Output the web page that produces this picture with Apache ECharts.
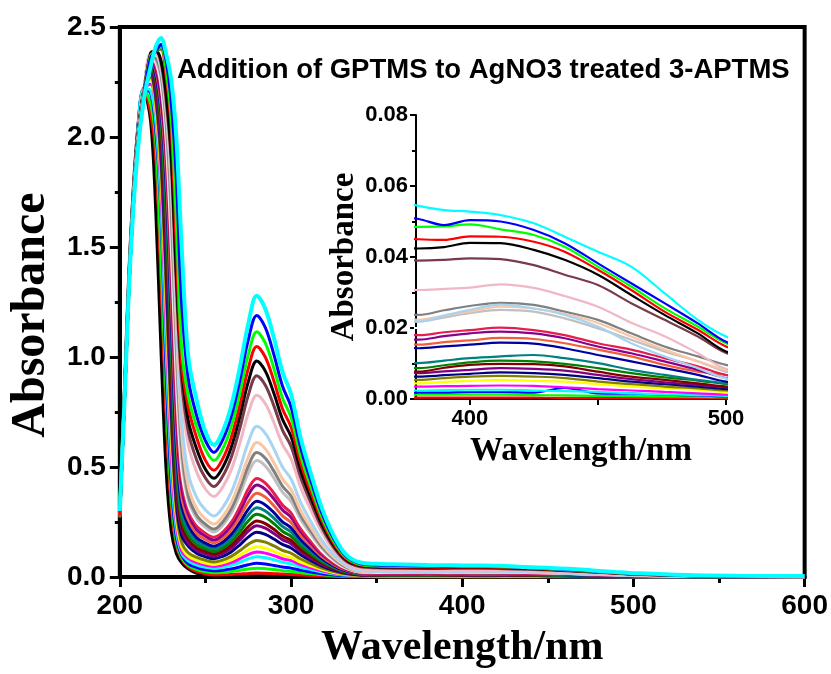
<!DOCTYPE html>
<html>
<head>
<meta charset="utf-8">
<script src="https://cdn.jsdelivr.net/npm/echarts@6/dist/echarts.min.js"></script>
<style>
  html, body { margin: 0; padding: 0; background: #ffffff; }
  #chart { width: 831px; height: 674px; }
</style>
</head>
<body>
<div id="chart"></div>
<script>
// Wavelength sampling points (nm) shared by every absorbance scan
const wavelengths = [200, 203, 206, 210, 214, 218, 221, 224, 227, 230, 233, 236, 240, 245, 250,
  255, 260, 265, 270, 275, 280, 285, 290, 295, 300, 306, 312, 318, 325, 332, 340, 350, 365,
  380, 390, 400, 412, 425, 437, 450, 463, 476, 489, 500, 530, 560, 600];

// Absorbance scans, one per GPTMS addition (first scan = before addition)
const scan00 = [0.28, 0.92, 1.50, 2.00, 2.21, 2.07, 1.66, 1.04, 0.49, 0.21, 0.107, 0.066, 0.036, 0.017, 0.009, 0.004, 0.004, 0.0045, 0.005, 0.0055, 0.006, 0.0055, 0.005, 0.0045, 0.004, 0.003, 0.0025, 0.002, 0.0015, 0.001, 0.0005, 0.0003, 0.0002, 0.0001, 0.0001, 0.0001, 0.0001, 0.0001, 0.0001, 0.0001, 0.0001, 0.0001, 0.0001, 0.0001, 0.0001, 0.0001, 0.0001];
const scan01 = [0.30, 0.90, 1.48, 1.98, 2.22, 2.11, 1.91, 1.36, 0.75, 0.32, 0.145, 0.083, 0.045, 0.024, 0.014, 0.009, 0.0098, 0.0113, 0.0137, 0.0164, 0.018, 0.0172, 0.0153, 0.0131, 0.0117, 0.0087, 0.0065, 0.0044, 0.0028, 0.0015, 0.0008, 0.0006, 0.0005, 0.0004, 0.0004, 0.0004, 0.0004, 0.0004, 0.0003, 0.0003, 0.0003, 0.0002, 0.0002, 0.0002, 0.0001, 0.0001, 0.0001];
const scan02 = [0.33, 0.90, 1.47, 1.97, 2.22, 2.15, 1.98, 1.46, 0.84, 0.37, 0.16, 0.09, 0.052, 0.034, 0.024, 0.019, 0.021, 0.0245, 0.030, 0.0362, 0.040, 0.038, 0.034, 0.029, 0.026, 0.0194, 0.0144, 0.0098, 0.006, 0.0035, 0.0022, 0.0016, 0.0014, 0.0012, 0.0012, 0.0012, 0.0012, 0.0011, 0.0010, 0.0009, 0.0008, 0.0007, 0.0006, 0.0005, 0.0003, 0.0002, 0.0002];
const scan03 = [0.29, 0.89, 1.47, 1.97, 2.22, 2.20, 2.03, 1.66, 0.94, 0.43, 0.18, 0.10, 0.06, 0.043, 0.033, 0.028, 0.031, 0.037, 0.0457, 0.0559, 0.062, 0.059, 0.0527, 0.0453, 0.0403, 0.030, 0.0223, 0.0152, 0.0095, 0.0055, 0.0032, 0.0024, 0.0021, 0.0018, 0.0018, 0.0019, 0.0019, 0.0018, 0.0031, 0.0016, 0.0015, 0.0012, 0.0010, 0.0007, 0.0004, 0.0003, 0.0002];
const scan04 = [0.31, 0.89, 1.46, 1.96, 2.22, 2.21, 2.07, 1.69, 1.04, 0.49, 0.21, 0.11, 0.072, 0.054, 0.044, 0.039, 0.0438, 0.0528, 0.0666, 0.0825, 0.092, 0.0877, 0.0782, 0.0672, 0.0598, 0.0446, 0.0331, 0.0225, 0.014, 0.008, 0.0045, 0.0032, 0.0028, 0.0024, 0.0025, 0.0026, 0.0026, 0.0024, 0.0022, 0.0020, 0.0016, 0.0013, 0.0011, 0.0009, 0.0005, 0.0003, 0.0003];
const scan05 = [0.28, 0.88, 1.46, 1.96, 2.22, 2.24, 2.12, 1.76, 1.14, 0.56, 0.24, 0.12, 0.085, 0.065, 0.054, 0.048, 0.054, 0.065, 0.0823, 0.102, 0.114, 0.1086, 0.0969, 0.0832, 0.0741, 0.0553, 0.041, 0.0279, 0.0172, 0.0098, 0.0055, 0.0042, 0.0038, 0.0035, 0.0036, 0.0037, 0.0038, 0.0037, 0.0033, 0.0028, 0.0024, 0.0020, 0.0016, 0.0012, 0.0007, 0.0005, 0.0004];
const scan06 = [0.30, 0.88, 1.46, 1.96, 2.22, 2.26, 2.13, 1.82, 1.23, 0.63, 0.27, 0.14, 0.095, 0.076, 0.064, 0.057, 0.0642, 0.0778, 0.0986, 0.1226, 0.137, 0.1306, 0.1165, 0.100, 0.089, 0.0664, 0.0493, 0.0336, 0.0205, 0.0115, 0.0068, 0.0053, 0.0048, 0.0044, 0.0048, 0.0051, 0.0054, 0.0051, 0.0049, 0.0042, 0.0035, 0.0030, 0.0026, 0.0020, 0.0011, 0.0007, 0.0005];
const scan07 = [0.27, 0.88, 1.45, 1.95, 2.21, 2.27, 2.16, 1.87, 1.31, 0.70, 0.31, 0.16, 0.11, 0.089, 0.076, 0.068, 0.0768, 0.0935, 0.119, 0.1484, 0.166, 0.1582, 0.1411, 0.1212, 0.1079, 0.0805, 0.0598, 0.0407, 0.025, 0.014, 0.008, 0.0065, 0.0058, 0.0054, 0.0059, 0.0063, 0.0065, 0.0063, 0.0059, 0.0049, 0.0042, 0.0035, 0.0030, 0.0024, 0.0013, 0.0008, 0.0006];
const scan08 = [0.30, 0.88, 1.45, 1.95, 2.21, 2.29, 2.19, 1.93, 1.40, 0.78, 0.34, 0.19, 0.14, 0.107, 0.092, 0.083, 0.0938, 0.1142, 0.1454, 0.1814, 0.203, 0.1935, 0.1726, 0.1482, 0.132, 0.0985, 0.0731, 0.0497, 0.0305, 0.017, 0.0095, 0.0075, 0.0068, 0.0063, 0.0067, 0.0071, 0.0075, 0.0073, 0.0068, 0.0059, 0.0049, 0.0042, 0.0035, 0.0028, 0.0015, 0.0009, 0.0007];
const scan09 = [0.29, 0.88, 1.45, 1.95, 2.21, 2.30, 2.20, 1.97, 1.48, 0.86, 0.38, 0.22, 0.155, 0.12, 0.105, 0.095, 0.1074, 0.1309, 0.1668, 0.2082, 0.233, 0.222, 0.198, 0.170, 0.1515, 0.113, 0.0839, 0.0571, 0.0345, 0.019, 0.0108, 0.0088, 0.0080, 0.0073, 0.0078, 0.0082, 0.0087, 0.0085, 0.0080, 0.0068, 0.0056, 0.0047, 0.0040, 0.0033, 0.0017, 0.0010, 0.0008];
const scan10 = [0.31, 0.87, 1.45, 1.95, 2.21, 2.32, 2.24, 2.03, 1.56, 0.94, 0.43, 0.24, 0.17, 0.132, 0.116, 0.105, 0.1185, 0.144, 0.183, 0.228, 0.255, 0.243, 0.2168, 0.1862, 0.1658, 0.1237, 0.0918, 0.0625, 0.0378, 0.0208, 0.0118, 0.0095, 0.0085, 0.0077, 0.0088, 0.0096, 0.0099, 0.0098, 0.0092, 0.0077, 0.0063, 0.0054, 0.0044, 0.0035, 0.0018, 0.0011, 0.0008];
const scan11 = [0.28, 0.87, 1.45, 1.95, 2.21, 2.32, 2.26, 2.06, 1.64, 1.02, 0.48, 0.27, 0.19, 0.147, 0.128, 0.116, 0.1312, 0.160, 0.2039, 0.2546, 0.285, 0.2716, 0.2423, 0.2081, 0.1853, 0.1382, 0.1026, 0.0698, 0.0422, 0.0232, 0.013, 0.0102, 0.0092, 0.0087, 0.0095, 0.0103, 0.0108, 0.0106, 0.0099, 0.0087, 0.0073, 0.0061, 0.0052, 0.0042, 0.0021, 0.0013, 0.0009];
const scan12 = [0.30, 0.87, 1.44, 1.94, 2.21, 2.34, 2.28, 2.11, 1.73, 1.10, 0.53, 0.30, 0.21, 0.162, 0.141, 0.128, 0.1448, 0.1766, 0.2252, 0.2813, 0.315, 0.3002, 0.2678, 0.230, 0.2048, 0.1528, 0.1134, 0.0772, 0.0465, 0.0256, 0.0142, 0.0115, 0.0105, 0.0101, 0.0108, 0.0115, 0.0120, 0.0124, 0.0115, 0.0101, 0.0082, 0.0068, 0.0054, 0.0044, 0.0022, 0.0013, 0.0009];
const scan13 = [0.29, 0.87, 1.44, 1.94, 2.21, 2.34, 2.28, 2.12, 1.79, 1.18, 0.60, 0.33, 0.235, 0.178, 0.154, 0.14, 0.1584, 0.193, 0.2461, 0.3073, 0.344, 0.3278, 0.2924, 0.2511, 0.2236, 0.1668, 0.1238, 0.0843, 0.0508, 0.028, 0.0165, 0.0150, 0.0146, 0.0143, 0.0148, 0.0153, 0.0159, 0.0156, 0.0143, 0.0124, 0.0106, 0.0087, 0.0068, 0.0049, 0.0025, 0.0015, 0.0010];
const scan14 = [0.30, 0.87, 1.44, 1.94, 2.20, 2.35, 2.30, 2.15, 1.85, 1.27, 0.67, 0.37, 0.26, 0.197, 0.171, 0.155, 0.1753, 0.2138, 0.2725, 0.3403, 0.381, 0.3631, 0.3239, 0.2781, 0.2477, 0.1848, 0.1372, 0.0933, 0.0563, 0.031, 0.0178, 0.0160, 0.0155, 0.0153, 0.0160, 0.0165, 0.0172, 0.0169, 0.0157, 0.0139, 0.0120, 0.0096, 0.0077, 0.0068, 0.0032, 0.0018, 0.0012];
const scan15 = [0.28, 0.87, 1.44, 1.94, 2.20, 2.35, 2.31, 2.18, 1.91, 1.36, 0.75, 0.41, 0.285, 0.215, 0.186, 0.168, 0.1905, 0.233, 0.298, 0.373, 0.418, 0.3984, 0.3553, 0.3051, 0.2717, 0.2027, 0.1505, 0.1024, 0.0618, 0.034, 0.0193, 0.0175, 0.0170, 0.0167, 0.0177, 0.0185, 0.0190, 0.0185, 0.0171, 0.0148, 0.0129, 0.0106, 0.0082, 0.0059, 0.0030, 0.0017, 0.0011];
const scan16 = [0.31, 0.87, 1.44, 1.94, 2.20, 2.36, 2.33, 2.23, 1.96, 1.44, 0.82, 0.46, 0.31, 0.234, 0.201, 0.182, 0.206, 0.2512, 0.3203, 0.4001, 0.448, 0.427, 0.3808, 0.327, 0.2912, 0.2173, 0.1613, 0.1098, 0.0663, 0.0365, 0.0210, 0.0192, 0.0185, 0.0180, 0.0188, 0.0194, 0.0201, 0.0194, 0.0180, 0.0157, 0.0139, 0.0115, 0.0092, 0.0068, 0.0033, 0.0019, 0.0013];
const scan17 = [0.29, 0.87, 1.44, 1.94, 2.20, 2.36, 2.34, 2.24, 2.00, 1.52, 0.90, 0.50, 0.33, 0.25, 0.215, 0.195, 0.2216, 0.2717, 0.3484, 0.4369, 0.49, 0.467, 0.4165, 0.3577, 0.3185, 0.2377, 0.1764, 0.12, 0.0725, 0.040, 0.0225, 0.021, 0.020, 0.0200, 0.0208, 0.0215, 0.0222, 0.0218, 0.0205, 0.0180, 0.0155, 0.0125, 0.0100, 0.0075, 0.0036, 0.0021, 0.0014];
const scan18 = [0.30, 0.86, 1.44, 1.93, 2.20, 2.37, 2.35, 2.27, 2.04, 1.61, 0.98, 0.55, 0.35, 0.265, 0.226, 0.205, 0.2342, 0.2892, 0.3735, 0.4707, 0.529, 0.5041, 0.4497, 0.3862, 0.3439, 0.2566, 0.1904, 0.1296, 0.0783, 0.043, 0.025, 0.0235, 0.0225, 0.0218, 0.0230, 0.0242, 0.0251, 0.0246, 0.0227, 0.0199, 0.0167, 0.0134, 0.0106, 0.0077, 0.0037, 0.0021, 0.0014];
const scan19 = [0.29, 0.86, 1.43, 1.93, 2.20, 2.37, 2.36, 2.29, 2.08, 1.68, 1.06, 0.60, 0.37, 0.28, 0.24, 0.218, 0.2493, 0.3085, 0.399, 0.5034, 0.566, 0.5394, 0.4811, 0.4132, 0.3679, 0.2745, 0.2038, 0.1387, 0.0835, 0.046, 0.027, 0.0255, 0.0245, 0.0237, 0.0250, 0.0262, 0.0271, 0.0265, 0.0246, 0.0223, 0.0185, 0.0148, 0.0120, 0.0096, 0.0046, 0.0026, 0.0017];
const scan20 = [0.30, 0.86, 1.43, 1.93, 2.20, 2.37, 2.37, 2.31, 2.12, 1.76, 1.14, 0.66, 0.41, 0.31, 0.264, 0.24, 0.2734, 0.3365, 0.4329, 0.5442, 0.611, 0.5823, 0.5194, 0.446, 0.3972, 0.2963, 0.22, 0.1497, 0.09, 0.05, 0.0265, 0.0245, 0.0235, 0.0223, 0.0235, 0.0246, 0.0260, 0.0255, 0.0240, 0.0214, 0.0176, 0.0139, 0.0106, 0.0082, 0.0040, 0.0023, 0.0015];
const scan21 = [0.28, 0.86, 1.43, 1.93, 2.19, 2.38, 2.38, 2.31, 2.13, 1.80, 1.20, 0.72, 0.47, 0.36, 0.305, 0.277, 0.3137, 0.3831, 0.4892, 0.6116, 0.685, 0.6528, 0.5823, 0.5001, 0.4453, 0.3322, 0.2466, 0.1678, 0.1005, 0.0555, 0.029, 0.0245, 0.0228, 0.0218, 0.0235, 0.0251, 0.0266, 0.0255, 0.0237, 0.0204, 0.0157, 0.0120, 0.0087, 0.0058, 0.0028, 0.0016, 0.0011];
const scan22 = [0.30, 0.86, 1.43, 1.92, 2.19, 2.38, 2.38, 2.33, 2.15, 1.85, 1.27, 0.84, 0.60, 0.475, 0.40, 0.366, 0.4074, 0.4856, 0.6052, 0.7432, 0.826, 0.7872, 0.7021, 0.603, 0.5369, 0.4006, 0.2974, 0.2024, 0.1205, 0.066, 0.039, 0.0335, 0.0315, 0.0307, 0.0310, 0.0314, 0.0323, 0.0313, 0.0290, 0.0260, 0.0215, 0.0177, 0.0129, 0.0085, 0.0041, 0.0024, 0.0016];
const scan23 = [0.29, 0.86, 1.43, 1.92, 2.19, 2.38, 2.39, 2.34, 2.17, 1.89, 1.33, 0.90, 0.66, 0.53, 0.45, 0.411, 0.4564, 0.542, 0.6731, 0.8243, 0.915, 0.872, 0.7778, 0.668, 0.5948, 0.4438, 0.3294, 0.2242, 0.1335, 0.0735, 0.0475, 0.042, 0.040, 0.0390, 0.0392, 0.0396, 0.0394, 0.0377, 0.0350, 0.0321, 0.0270, 0.0223, 0.0176, 0.0130, 0.0062, 0.0036, 0.0024];
const scan24 = [0.30, 0.86, 1.43, 1.92, 2.19, 2.38, 2.39, 2.35, 2.20, 1.92, 1.38, 0.96, 0.71, 0.58, 0.49, 0.449, 0.497, 0.5876, 0.7262, 0.8861, 0.982, 0.9358, 0.8347, 0.7169, 0.6383, 0.4763, 0.3535, 0.2406, 0.1435, 0.079, 0.052, 0.046, 0.0435, 0.0424, 0.0428, 0.0440, 0.0439, 0.0420, 0.0392, 0.0350, 0.0293, 0.0237, 0.0185, 0.0134, 0.0064, 0.0037, 0.0025];
const scan25 = [0.28, 0.86, 1.42, 1.92, 2.19, 2.37, 2.39, 2.40, 2.28, 2.04, 1.50, 0.98, 0.77, 0.63, 0.53, 0.485, 0.5357, 0.6314, 0.7778, 0.9467, 1.048, 0.9987, 0.8908, 0.765, 0.6812, 0.5083, 0.3773, 0.2568, 0.153, 0.085, 0.055, 0.0485, 0.046, 0.0450, 0.0448, 0.0458, 0.0457, 0.0443, 0.0415, 0.0364, 0.0307, 0.0246, 0.0195, 0.0148, 0.0070, 0.0040, 0.0027];
const scan26 = [0.33, 0.86, 1.42, 1.91, 2.18, 2.37, 2.39, 2.41, 2.31, 2.09, 1.62, 1.05, 0.82, 0.68, 0.58, 0.529, 0.5817, 0.6814, 0.8337, 1.0095, 1.115, 1.0626, 0.9478, 0.814, 0.7248, 0.5408, 0.4014, 0.2732, 0.163, 0.09, 0.058, 0.051, 0.049, 0.0485, 0.0486, 0.0492, 0.0478, 0.0462, 0.0429, 0.0373, 0.0317, 0.0256, 0.0204, 0.0157, 0.0075, 0.0043, 0.0029];
const scan27 = [0.30, 0.85, 1.42, 1.91, 2.18, 2.36, 2.39, 2.42, 2.35, 2.16, 1.82, 1.26, 0.90, 0.73, 0.62, 0.566, 0.6221, 0.728, 0.89, 1.0769, 1.189, 1.1331, 1.0107, 0.868, 0.7729, 0.5767, 0.428, 0.2913, 0.174, 0.096, 0.062, 0.054, 0.052, 0.0507, 0.0490, 0.0504, 0.0500, 0.0476, 0.0439, 0.0382, 0.0326, 0.0270, 0.0213, 0.0161, 0.0078, 0.0045, 0.0030];
const scan28 = [0.30, 0.85, 1.42, 1.90, 2.17, 2.32, 2.41, 2.45, 2.38, 2.26, 2.00, 1.52, 1.00, 0.80, 0.66, 0.60, 0.66, 0.775, 0.948, 1.149, 1.278, 1.218, 1.086, 0.933, 0.831, 0.62, 0.46, 0.313, 0.187, 0.103, 0.067, 0.060, 0.057, 0.0544, 0.0532, 0.0528, 0.0518, 0.0495, 0.0457, 0.0415, 0.0373, 0.0298, 0.0223, 0.0176, 0.0090, 0.0055, 0.0040];

const scans = [scan00, scan01, scan02, scan03, scan04, scan05, scan06, scan07, scan08, scan09,
  scan10, scan11, scan12, scan13, scan14, scan15, scan16, scan17, scan18, scan19,
  scan20, scan21, scan22, scan23, scan24, scan25, scan26, scan27, scan28];

// Line colour of each scan, in acquisition order
const scanColors = ['#000000', '#ff0000', '#00ff00', '#0000ff', '#00ffff', '#ff00ff', '#ffff00',
  '#808000', '#000080', '#800080', '#800000', '#008000', '#008080', '#0000a0', '#ef5f3c',
  '#8b008b', '#e61e4d', '#ffffff', '#c0c0c0', '#808080', '#f9c6a4', '#a6d4f2', '#f0b8c4',
  '#7a3a4a', '#000000', '#ff0000', '#00ff00', '#0000ff', '#00ffff'];

// Tick labels
const mainXTicks = [200, 300, 400, 500, 600];
const mainYTicks = [0, 0.5, 1.0, 1.5, 2.0, 2.5];
const insetXTicks = [400, 500];
const insetXTickMarks = [400, 450, 500];
const insetYTicks = [0, 0.02, 0.04, 0.06, 0.08];

const titleText = 'Addition of GPTMS to AgNO3 treated 3-APTMS';

const chart = echarts.init(document.getElementById('chart'), null, { renderer: 'canvas' });

const sansBold = { fontFamily: '"Liberation Sans", Arial, sans-serif', fontWeight: 'bold', color: '#000' };
const serifBold = { fontFamily: '"Liberation Serif", "Times New Roman", serif', fontWeight: 'bold', color: '#000' };

function scanPoints(values) {
  return wavelengths.map((w, k) => [w, values[k]]);
}

const mainSeries = scans.map((values, i) => ({
  type: 'line',
  xAxisIndex: 0,
  yAxisIndex: 0,
  data: scanPoints(values),
  showSymbol: false,
  smooth: 0.35,
  clip: true,
  silent: true,
  lineStyle: { color: scanColors[i], width: i === scans.length - 1 ? 4 : 3 },
  itemStyle: { color: scanColors[i] }
}));

const insetSeries = scans.map((values, i) => ({
  type: 'line',
  xAxisIndex: 1,
  yAxisIndex: 1,
  data: scanPoints(values),
  showSymbol: false,
  smooth: 0.35,
  clip: true,
  silent: true,
  lineStyle: { color: scanColors[i], width: 2.2 },
  itemStyle: { color: scanColors[i] }
}));

chart.setOption({
  animation: false,
  backgroundColor: '#ffffff',
  grid: [
    { left: 116, top: 27, width: 689, height: 563, show: true, borderColor: '#000', borderWidth: 4, backgroundColor: 'transparent' },
    { left: 416, top: 115, width: 310, height: 284, show: false }
  ],
  xAxis: [
    {
      type: 'value', gridIndex: 0, min: 200, max: 600, interval: 100,
      name: 'Wavelength/nm', nameLocation: 'middle', nameGap: 50,
      nameTextStyle: Object.assign({ fontSize: 42 }, serifBold),
      axisLine: { lineStyle: { color: '#000', width: 4 } },
      axisTick: { length: 10, lineStyle: { color: '#000', width: 3 } },
      minorTick: { show: true, splitNumber: 2, length: 6, lineStyle: { color: '#000', width: 3 } },
      splitLine: { show: false },
      axisLabel: Object.assign({ fontSize: 28, margin: 15, customValues: mainXTicks }, sansBold)
    },
    {
      type: 'value', gridIndex: 1, min: 379, max: 500,
      name: 'Wavelength/nm', nameLocation: 'middle', nameGap: 36,
      nameTextStyle: Object.assign({ fontSize: 33, padding: [0, 0, 0, 20] }, serifBold),
      axisLine: { lineStyle: { color: '#000', width: 2 } },
      axisTick: { length: 6, customValues: insetXTickMarks, lineStyle: { color: '#000', width: 2 } },
      splitLine: { show: false },
      axisLabel: Object.assign({ fontSize: 22, margin: 9, customValues: insetXTicks }, sansBold)
    }
  ],
  yAxis: [
    {
      type: 'value', gridIndex: 0, min: 0, max: 2.5, interval: 0.5,
      name: 'Absorbance', nameLocation: 'middle', nameGap: 60,
      nameTextStyle: Object.assign({ fontSize: 48, padding: [0, 26, 0, 0] }, serifBold),
      axisLine: { lineStyle: { color: '#000', width: 4 } },
      axisTick: { length: 10, lineStyle: { color: '#000', width: 3 } },
      minorTick: { show: true, splitNumber: 2, length: 5, lineStyle: { color: '#000', width: 3 } },
      splitLine: { show: false },
      axisLabel: Object.assign({ fontSize: 28, margin: 14, customValues: mainYTicks,
        formatter: v => v.toFixed(1) }, sansBold)
    },
    {
      type: 'value', gridIndex: 1, min: 0, max: 0.08, interval: 0.02,
      name: 'Absorbance', nameLocation: 'middle', nameGap: 55,
      nameTextStyle: Object.assign({ fontSize: 33 }, serifBold),
      axisLine: { lineStyle: { color: '#000', width: 2 } },
      axisTick: { length: 6, lineStyle: { color: '#000', width: 2 } },
      minorTick: { show: true, splitNumber: 2, length: 4, lineStyle: { color: '#000', width: 2 } },
      splitLine: { show: false },
      axisLabel: Object.assign({ fontSize: 22, margin: 8, customValues: insetYTicks,
        formatter: v => v.toFixed(2) }, sansBold)
    }
  ],
  graphic: [
    {
      type: 'text', left: 177, top: 56, silent: true,
      style: { text: titleText, font: 'bold 27.5px "Liberation Sans", Arial, sans-serif', fill: '#000' }
    }
  ],
  series: mainSeries.concat(insetSeries)
});
</script>
</body>
</html>
